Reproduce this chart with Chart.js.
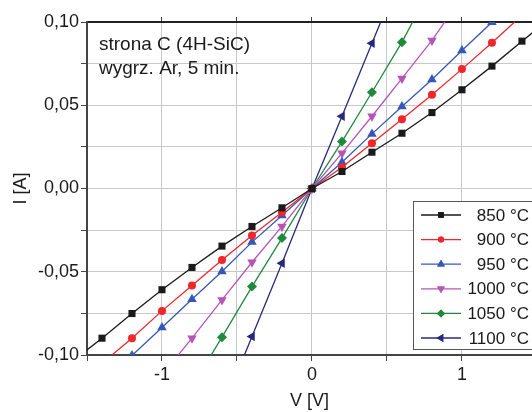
<!DOCTYPE html>
<html>
<head>
<meta charset="utf-8">
<script src="https://cdn.jsdelivr.net/npm/chart.js@4"></script>
<style>
  html, body { margin: 0; padding: 0; background: #fff; }
  #wrap { width: 532px; height: 412px; }
</style>
</head>
<body>
<div id="wrap"><canvas id="chartIV" width="532" height="412"></canvas></div>
<script>
const napiecie = [-1.6, -1.4, -1.2, -1.0, -0.8, -0.6, -0.4, -0.2, 0, 0.2, 0.4, 0.6, 0.8, 1.0, 1.2, 1.4, 1.6]

const prad850 = [-0.104, -0.0899, -0.0751, -0.0608, -0.0474, -0.0346, -0.0228, -0.0116, 0, 0.0102, 0.0218, 0.0332, 0.0456, 0.0593, 0.0735, 0.0885, 0.103]
const prad900 = [null, -0.105, -0.0899, -0.0735, -0.0583, -0.043, -0.0282, -0.0142, 0, 0.0128, 0.0272, 0.0416, 0.0563, 0.0717, 0.0875, 0.104, null]
const prad950 = [null, -0.117, -0.1003, -0.0835, -0.0665, -0.0498, -0.0322, -0.0162, 0, 0.0158, 0.0328, 0.0492, 0.0655, 0.0829, 0.0999, 0.117, null]
const prad1000 = [null, null, null, -0.112, -0.0899, -0.0669, -0.0443, -0.0228, 0, 0.0212, 0.0434, 0.0661, 0.0889, 0.115, null, null, null]
const prad1050 = [null, null, null, null, -0.119, -0.0893, -0.0589, -0.0298, 0, 0.0282, 0.0578, 0.0879, 0.122, null, null, null, null]
const prad1100 = [null, null, null, null, null, -0.133, -0.0889, -0.0449, 0, 0.0434, 0.0873, 0.131, null, null, null, null, null]

const etykiety = ['850 °C', '900 °C', '950 °C', '1000 °C', '1050 °C', '1100 °C']
const opis = ['strona C (4H-SiC)', 'wygrz. Ar, 5 min.']

const czcionka = "'Liberation Sans', Arial, sans-serif"

const seria = (label, dane, kolor, styl, obrot, promien) => ({
  label: label,
  data: napiecie.map((v, i) => ({ x: v, y: dane[i] })),
  borderColor: kolor,
  backgroundColor: kolor,
  borderWidth: 1.3,
  pointStyle: styl,
  pointRotation: obrot,
  pointRadius: promien,
  pointBorderWidth: 0,
  pointHoverRadius: promien,
  tension: 0
})

// legenda w ramce jak w oryginale
const legendaRamka = {
  id: 'legendaRamka',
  afterDatasetsDraw(chart) {
    const c = chart.ctx
    c.save()
    c.fillStyle = '#fff'
    c.fillRect(413.5, 201.5, 125, 148)
    c.strokeStyle = '#555'
    c.lineWidth = 1
    c.strokeRect(413.5, 201.5, 125, 148)
    c.font = '17px ' + czcionka
    c.textAlign = 'right'
    c.textBaseline = 'middle'
    chart.data.datasets.forEach((ds, i) => {
      const y = 215 + i * 24.6
      c.strokeStyle = ds.borderColor
      c.lineWidth = 1.3
      c.beginPath()
      c.moveTo(421, y)
      c.lineTo(461, y)
      c.stroke()
      c.fillStyle = ds.backgroundColor
      if (Chart.helpers && Chart.helpers.drawPoint) {
        Chart.helpers.drawPoint(c, { pointStyle: ds.pointStyle, rotation: ds.pointRotation, radius: ds.pointRadius - 1, borderWidth: 0 }, 441, y)
        c.fill()
      }
      c.fillStyle = '#1a1a1a'
      c.fillText(ds.label, 529, y + 1)
    })
    c.textAlign = 'left'
    c.textBaseline = 'alphabetic'
    c.font = '19px ' + czcionka
    c.fillText(opis[0], 99, 50)
    c.fillText(opis[1], 99, 74)
    c.restore()
  }
}

const ctx = document.getElementById('chartIV').getContext('2d')

const chartIV = new Chart(ctx, {
  type: 'line',
  data: {
    datasets: [
      seria(etykiety[0], prad850, '#1a1a1a', 'rect', 0, 5),
      seria(etykiety[1], prad900, '#f0262a', 'circle', 0, 4),
      seria(etykiety[2], prad950, '#3558b8', 'triangle', 0, 5.5),
      seria(etykiety[3], prad1000, '#b655b8', 'triangle', 180, 5.5),
      seria(etykiety[4], prad1050, '#1f8a3c', 'rectRot', 0, 5),
      seria(etykiety[5], prad1100, '#28287e', 'triangle', -90, 5.5)
    ]
  },
  options: {
    responsive: false,
    animation: false,
    layout: { padding: 0, autoPadding: false },
    plugins: {
      legend: { display: false },
      tooltip: { enabled: false }
    },
    scales: {
      x: {
        type: 'linear',
        position: 'bottom',
        min: -1.5,
        max: 1.467,
        afterFit(s) { s.height = 57 },
        afterBuildTicks(s) {
          s.ticks = [-1.5, -1, -0.5, 0, 0.5, 1].map((v) => ({ value: v }))
        },
        ticks: {
          font: { family: czcionka, size: 18 },
          color: '#1a1a1a',
          padding: 3,
          maxRotation: 0,
          callback: (v) => (Number.isInteger(v) ? String(v) : '')
        },
        grid: { color: '#c8c8c8', lineWidth: 1, tickLength: 6, tickColor: '#444' },
        border: { color: '#444', width: 2 },
        title: {
          display: true,
          text: 'V [V]',
          font: { family: czcionka, size: 18 },
          color: '#1a1a1a',
          padding: { top: 0, bottom: 0 }
        }
      },
      x2: {
        type: 'linear',
        position: 'top',
        min: -1.5,
        max: 1.467,
        afterFit(s) { s.height = 22 },
        afterBuildTicks(s) {
          s.ticks = [-1, -0.5, 0, 0.5, 1].map((v) => ({ value: v }))
        },
        ticks: { display: false },
        grid: { drawOnChartArea: false, tickLength: 5, color: '#444' },
        border: { color: '#222', width: 2 }
      },
      y: {
        min: -0.1,
        max: 0.1,
        afterFit(s) { s.width = 87 },
        afterBuildTicks(s) {
          s.ticks = [-0.1, -0.075, -0.05, -0.025, 0, 0.025, 0.05, 0.075, 0.1].map((v) => ({ value: v }))
        },
        ticks: {
          font: { family: czcionka, size: 18 },
          color: '#1a1a1a',
          padding: 2,
          callback: (v) => {
            if (Math.abs(Math.round(v * 1000) % 50) !== 0) return ''
            const t = Math.abs(v).toFixed(2).replace('.', ',')
            return v < -1e-9 ? '-' + t : t
          }
        },
        grid: { color: '#c8c8c8', lineWidth: 1, tickLength: 6, tickColor: '#444' },
        border: { color: '#444', width: 2 },
        title: {
          display: true,
          text: 'I [A]',
          font: { family: czcionka, size: 18 },
          color: '#1a1a1a',
          padding: { top: 10, bottom: 0 }
        }
      }
    }
  },
  plugins: [legendaRamka]
})
</script>
</body>
</html>
